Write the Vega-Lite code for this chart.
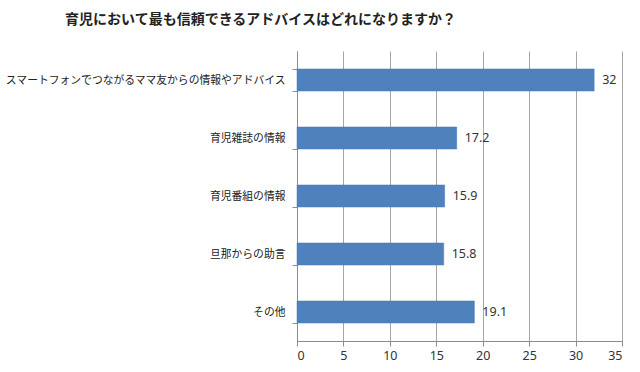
{
  "$schema": "https://vega.github.io/schema/vega-lite/v6.json",
  "width": 325,
  "height": 290,
  "autosize": "none",
  "padding": {"left": 297, "top": 51, "right": 18, "bottom": 31},
  "background": "white",
  "config": {"view": {"stroke": null}, "font": "Noto Sans CJK JP"},
  "title": {
    "text": "育児において最も信頼できるアドバイスはどれになりますか？",
    "anchor": "middle",
    "dx": -199,
    "offset": 18,
    "fontSize": 14,
    "font": "Noto Sans CJK JP",
    "fontWeight": "bold",
    "color": "#222222"
  },
  "data": {
    "values": [
      {"label": "スマートフォンでつながるママ友からの情報やアドバイス", "value": 32},
      {"label": "育児雑誌の情報", "value": 17.2},
      {"label": "育児番組の情報", "value": 15.9},
      {"label": "旦那からの助言", "value": 15.8},
      {"label": "その他", "value": 19.1}
    ]
  },
  "encoding": {
    "y": {
      "field": "label",
      "type": "nominal",
      "sort": null,
      "scale": {"paddingInner": 0.62, "paddingOuter": 0.31},
      "axis": {
        "title": null,
        "labelFontSize": 10.8,
        "labelColor": "#222222",
        "labelPadding": 7,
        "labelFont": "Noto Sans CJK JP",
        "tickBand": "extent",
        "tickColor": "#8C8C8C",
        "tickSize": 5,
        "domainColor": "#8C8C8C",
        "grid": false,
        "labelLimit": 400
      }
    },
    "x": {
      "field": "value",
      "type": "quantitative",
      "scale": {"domain": [0, 35], "nice": false},
      "axis": {
        "title": null,
        "values": [0, 5, 10, 15, 20, 25, 30, 35],
        "grid": true,
        "gridColor": "#A6A6A6",
        "domainColor": "#8C8C8C",
        "tickColor": "#8C8C8C",
        "tickSize": 5,
        "labelFontSize": 12.5,
        "labelColor": "#333333",
        "labelFont": "Noto Sans",
        "labelPadding": 3
      }
    }
  },
  "layer": [
    {"mark": {"type": "bar", "color": "#4F81BD", "stroke": "#4A7AB3", "strokeWidth": 0.5}},
    {
      "mark": {"type": "text", "align": "left", "dx": 8, "fontSize": 12.5, "color": "#333333", "font": "Noto Sans"},
      "encoding": {"text": {"field": "value", "type": "quantitative"}}
    }
  ]
}
